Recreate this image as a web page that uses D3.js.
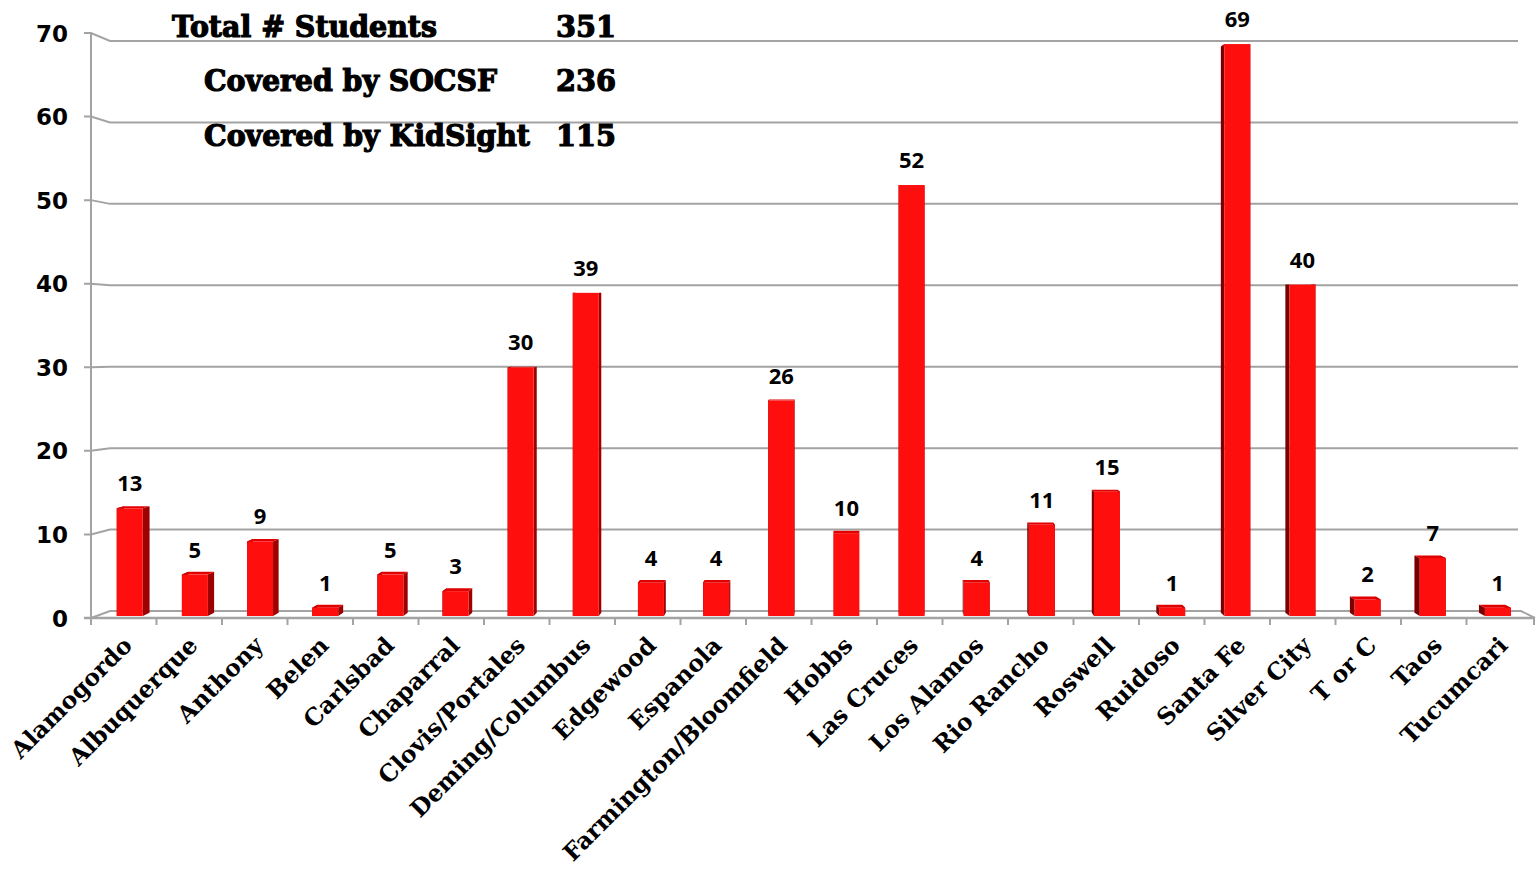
<!DOCTYPE html>
<html>
<head>
<meta charset="utf-8">
<script src="https://cdn.jsdelivr.net/npm/d3@7/dist/d3.min.js"></script>
<style>
  html, body { margin: 0; padding: 0; background: #ffffff; }
  #chart { width: 1538px; height: 871px; }
</style>
</head>
<body>
<div id="chart"></div>
<script>
// Chart data
const categories = ["Alamogordo", "Albuquerque", "Anthony", "Belen", "Carlsbad", "Chaparral",
  "Clovis/Portales", "Deming/Columbus", "Edgewood", "Espanola", "Farmington/Bloomfield", "Hobbs",
  "Las Cruces", "Los Alamos", "Rio Rancho", "Roswell", "Ruidoso", "Santa Fe", "Silver City",
  "T or C", "Taos", "Tucumcari"];
const values = [13, 5, 9, 1, 5, 3, 30, 39, 4, 4, 26, 10, 52, 4, 11, 15, 1, 69, 40, 2, 7, 1];
const yTicks = [0, 10, 20, 30, 40, 50, 60, 70];
const summaryLabels = ["Total # Students", "Covered by SOCSF", "Covered by KidSight"];
const summaryValues = [351, 236, 115];

const width = 1538, height = 871;

const svg = d3.select("#chart")
  .append("svg")
  .attr("width", width)
  .attr("height", height);

// Scales: front plane of the axis, back wall, and bar plane
const x = d3.scaleBand().domain(categories).range([91, 1532]).padding(0);
const yFront = d3.scaleLinear().domain([0, 70]).range([618, 33]);
const yBack = d3.scaleLinear().domain([0, 70]).range([611, 41]);
const yBar = d3.scaleLinear().domain([0, 70]).range([616, 36]);

const gridColor = "#a3a3a3";

// Gridlines on the back wall, with a slanted link back to the axis
const grid = svg.append("g");
yTicks.filter(v => v > 0).forEach(v => {
  grid.append("path")
    .attr("d", `M84,${yFront(v)} L91,${yFront(v)} L110,${yBack(v)} L1518,${yBack(v)}`)
    .attr("fill", "none")
    .attr("stroke", gridColor)
    .attr("stroke-width", 2);
});

// Floor
grid.append("path")
  .attr("d", `M91,${yFront(0)} L110,${yBack(0)} L1521,${yBack(0)} L1535,${yFront(0)}`)
  .attr("fill", "none")
  .attr("stroke", gridColor)
  .attr("stroke-width", 2);
grid.append("line")
  .attr("x1", 84).attr("x2", 1535)
  .attr("y1", yFront(0)).attr("y2", yFront(0))
  .attr("stroke", gridColor)
  .attr("stroke-width", 2.5);

// Vertical axis
grid.append("line")
  .attr("x1", 91).attr("x2", 91)
  .attr("y1", yFront(70)).attr("y2", yFront(0) + 7)
  .attr("stroke", gridColor)
  .attr("stroke-width", 2);

// Category ticks
const tickXs = categories.map(c => x(c)).concat([x.range()[1] + 2]);
grid.selectAll(".xtick")
  .data(tickXs)
  .enter()
  .append("line")
  .attr("class", "xtick")
  .attr("x1", d => d).attr("x2", d => d)
  .attr("y1", yFront(0)).attr("y2", yFront(0) + 7)
  .attr("stroke", gridColor)
  .attr("stroke-width", 2);

// Y tick labels
svg.append("g")
  .selectAll("text")
  .data(yTicks)
  .enter()
  .append("text")
  .attr("x", 68)
  .attr("y", d => yFront(d) + 8.5)
  .attr("text-anchor", "end")
  .attr("font-family", "DejaVu Sans, sans-serif")
  .attr("font-weight", "bold")
  .attr("font-size", "23px")
  .attr("fill", "#000")
  .text(d => d);

// 3D bars (simple perspective toward a vanishing point)
const vx = 860, vy = 284, depth = 0.0095;
const faceW = 26;
const back = (px, py) => [px + (vx - px) * depth, py + (vy - py) * depth];

const bars = svg.append("g");
categories.forEach((c, i) => {
  const cx = x(c) + x.bandwidth() / 2 + 6 - 0.35 * i;
  const xl = cx - faceW / 2, xr = cx + faceW / 2;
  const yt = yBar(values[i]), yb = yBar(0);
  const poly = pts => pts.map(p => p.join(",")).join(" ");

  // right side
  bars.append("polygon")
    .attr("points", poly([[xr, yt], [xr, yb], back(xr, yb), back(xr, yt)]))
    .attr("fill", "#9e0000");
  // left side
  bars.append("polygon")
    .attr("points", poly([[xl, yt], [xl, yb], back(xl, yb), back(xl, yt)]))
    .attr("fill", "#7a0000");
  // top
  bars.append("polygon")
    .attr("points", poly([[xl, yt], [xr, yt], back(xr, yt), back(xl, yt)]))
    .attr("fill", "#e00000");
  // front
  bars.append("rect")
    .attr("x", xl)
    .attr("y", yt)
    .attr("width", faceW)
    .attr("height", yb - yt)
    .attr("fill", "#ff0e0e");

  // value label
  bars.append("text")
    .attr("x", cx)
    .attr("y", yt - 17)
    .attr("text-anchor", "middle")
    .attr("font-family", "Open Sans, sans-serif")
    .attr("font-weight", "bold")
    .attr("font-size", "22px")
    .attr("fill", "#000")
    .text(values[i]);
});

// Category labels, rotated
svg.append("g")
  .selectAll("text")
  .data(categories)
  .enter()
  .append("text")
  .attr("transform", (d, i) => `translate(${x(d) + x.bandwidth() / 2 + 4}, 641) rotate(-45)`)
  .attr("dy", "0.35em")
  .attr("text-anchor", "end")
  .attr("font-family", "DejaVu Serif, serif")
  .attr("font-weight", "bold")
  .attr("font-size", "23.5px")
  .attr("fill", "#000")
  .text(d => d);

// Summary block in the top-left
const summary = svg.append("g");
const labelX = [172, 204, 204];
const labelW = [265, 293, 326];
const baseY = [37, 91, 146];
summaryLabels.forEach((s, i) => {
  summary.append("text")
    .attr("x", labelX[i])
    .attr("y", baseY[i])
    .attr("font-family", "DejaVu Serif, serif")
    .attr("font-weight", "bold")
    .attr("font-size", "29px")
    .attr("textLength", labelW[i])
    .attr("lengthAdjust", "spacingAndGlyphs")
    .attr("stroke", "#000")
    .attr("stroke-width", 1.2)
    .attr("fill", "#000")
    .text(s);
  summary.append("text")
    .attr("x", 556)
    .attr("y", baseY[i])
    .attr("font-family", "DejaVu Serif, serif")
    .attr("font-weight", "bold")
    .attr("font-size", "29px")
    .attr("textLength", 60)
    .attr("lengthAdjust", "spacingAndGlyphs")
    .attr("stroke", "#000")
    .attr("stroke-width", 1.2)
    .attr("fill", "#000")
    .text(summaryValues[i]);
});
</script>
</body>
</html>
